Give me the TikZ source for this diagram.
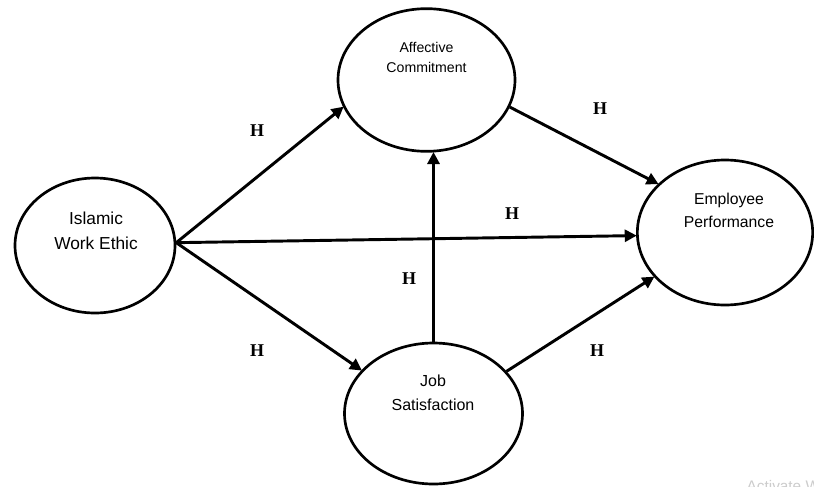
\documentclass[tikz,border=0pt]{standalone}
\usepackage{fontspec}
\setmainfont{Liberation Serif}
\setsansfont{Liberation Sans}
\usetikzlibrary{shapes.geometric,arrows.meta}
\tikzset{
  ell/.style={ellipse, draw=black, line width=2pt, inner sep=0pt, fill=white},
  lbl/.style={font=\sffamily, align=center, text=black},
  hyp/.style={font=\fontsize{13.5pt}{14pt}\selectfont\bfseries, text=black},
  arr/.style={line width=2.2pt, -{Triangle[length=9pt,width=9pt]}, shorten >=-0.5pt},
}
\begin{document}
\begin{tikzpicture}[x=0.75pt,y=-0.75pt]
\useasboundingbox (0,0) rectangle (814,486);
\begin{scope}
\clip (0,0) rectangle (814,486);
% watermark
\node[anchor=base west, font=\sffamily\fontsize{11.5pt}{12pt}\selectfont, text=black!20] (wm) at (742,491) {Activate W};

\node[ell, minimum width=132.75pt, minimum height=107pt] (ac) at (426.5,80) {};
\node[ell, minimum width=120pt, minimum height=101.25pt] (iwe) at (95,245.5) {};
\node[ell, minimum width=131.5pt, minimum height=108.75pt] (ep) at (725,232.5) {};
\node[ell, minimum width=133.5pt, minimum height=105.75pt] (js) at (433.5,413.5) {};

\node[lbl, font=\sffamily\fontsize{10.6pt}{15.5pt}\selectfont] (acl) at (426.5,57.5) {Affective\\Commitment};
\node[lbl, font=\sffamily\fontsize{13pt}{18.5pt}\selectfont] (iwel) at (96,230.5) {Islamic\\Work Ethic};
\node[lbl, font=\sffamily\fontsize{11.8pt}{17pt}\selectfont] (epl) at (729,210.5) {Employee\\Performance};
\node[lbl, font=\sffamily\fontsize{12pt}{18pt}\selectfont] (jsl) at (433,393) {Job\\Satisfaction};

\draw[arr] (iwe.2) -- (ac.198);
\draw[arr] (iwe.2) -- (ep.182);
\draw[arr] (iwe.2) -- (js.149);
\draw[arr] (js.north) -- (js.north |- ac.south);
\draw[arr] (ac.-18) -- (ep.144);
\draw[arr] (js.30) -- (ep.212);

\node[hyp] (h1) at (257,131) {H};
\node[hyp] (h2) at (600,109) {H};
\node[hyp] (h3) at (512,214) {H};
\node[hyp] (h4) at (409,279) {H};
\node[hyp] (h5) at (257,351) {H};
\node[hyp] (h6) at (597,351) {H};
\end{scope}
\end{tikzpicture}
\end{document}
